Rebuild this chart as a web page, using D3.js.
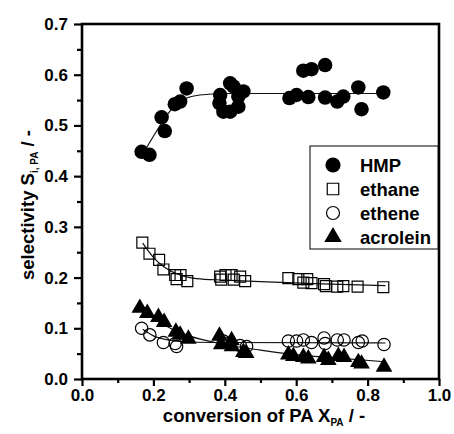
<!DOCTYPE html>
<html>
<head>
<meta charset="utf-8">
<script src="https://cdn.jsdelivr.net/npm/d3@7"></script>
<style>
body { margin: 0; background: #fff; }
text { font-family: Arial, "Liberation Sans", sans-serif; font-weight: bold; fill: #000; }
</style>
</head>
<body>
<div id="chart"></div>
<script>
// measured points (conversion X_PA, selectivity S)
var hmpX = [0.167, 0.189, 0.223, 0.232, 0.260, 0.275, 0.293, 0.387, 0.385, 0.396, 0.415, 0.424, 0.415, 0.438, 0.452, 0.438,
            0.620, 0.643, 0.681, 0.581, 0.601, 0.634, 0.681, 0.715, 0.732, 0.774, 0.783, 0.844];
var hmpY = [0.448, 0.442, 0.516, 0.489, 0.542, 0.547, 0.573, 0.560, 0.544, 0.527, 0.583, 0.577, 0.527, 0.537, 0.567, 0.557,
            0.608, 0.611, 0.619, 0.554, 0.560, 0.556, 0.555, 0.547, 0.557, 0.575, 0.532, 0.565];

var ethaneX = [0.169, 0.189, 0.216, 0.228, 0.261, 0.265, 0.276, 0.295, 0.387, 0.390, 0.402, 0.419, 0.425, 0.443, 0.457,
               0.578, 0.606, 0.631, 0.620, 0.643, 0.678, 0.683, 0.715, 0.732, 0.772, 0.844];
var ethaneY = [0.269, 0.247, 0.235, 0.216, 0.205, 0.197, 0.205, 0.193, 0.202, 0.196, 0.205, 0.205, 0.196, 0.202, 0.193,
               0.199, 0.197, 0.197, 0.190, 0.189, 0.187, 0.183, 0.182, 0.183, 0.182, 0.181];

var etheneX = [0.167, 0.190, 0.228, 0.261, 0.265, 0.396, 0.410, 0.443, 0.461,
               0.578, 0.601, 0.620, 0.643, 0.678, 0.681, 0.715, 0.734, 0.774, 0.785, 0.846];
var etheneY = [0.100, 0.087, 0.072, 0.070, 0.064, 0.075, 0.070, 0.066, 0.064,
               0.075, 0.075, 0.077, 0.072, 0.081, 0.070, 0.077, 0.077, 0.072, 0.075, 0.068];

var acroleinX = [0.162, 0.183, 0.214, 0.230, 0.263, 0.275, 0.298, 0.385, 0.390, 0.419, 0.420, 0.452, 0.460,
                 0.578, 0.592, 0.620, 0.634, 0.678, 0.690, 0.718, 0.734, 0.774, 0.783, 0.846];
var acroleinY = [0.140, 0.130, 0.122, 0.112, 0.093, 0.087, 0.079, 0.085, 0.068, 0.076, 0.064, 0.053, 0.051,
                 0.048, 0.045, 0.043, 0.040, 0.043, 0.037, 0.045, 0.043, 0.033, 0.030, 0.024];

// fitted trend lines
var hmpFitX = [0.18, 0.21, 0.25, 0.29, 0.33, 0.40, 0.50, 0.85];
var hmpFitY = [0.455, 0.490, 0.531, 0.553, 0.560, 0.563, 0.563, 0.563];
var ethaneFitX = [0.17, 0.20, 0.23, 0.27, 0.32, 0.40, 0.50, 0.65, 0.85];
var ethaneFitY = [0.268, 0.240, 0.221, 0.206, 0.198, 0.195, 0.192, 0.188, 0.184];
var etheneFitX = [0.17, 0.20, 0.25, 0.30, 0.40, 0.85];
var etheneFitY = [0.098, 0.085, 0.076, 0.073, 0.072, 0.071];
var acroleinFitX = [0.17, 0.20, 0.25, 0.30, 0.40, 0.50, 0.60, 0.70, 0.85];
var acroleinFitY = [0.140, 0.121, 0.099, 0.085, 0.068, 0.057, 0.048, 0.042, 0.034];

var legendNames = ["HMP", "ethane", "ethene", "acrolein"];
var xMajor = [0, 0.2, 0.4, 0.6, 0.8, 1.0], xMinor = [0.1, 0.3, 0.5, 0.7, 0.9];
var yMajor = [0, 0.1, 0.2, 0.3, 0.4, 0.5, 0.6, 0.7], yMinor = [0.05, 0.15, 0.25, 0.35, 0.45, 0.55, 0.65];

var W = 454, H = 434;
var margin = {top: 24, right: 15, bottom: 55, left: 82},
    width = W - margin.left - margin.right,
    height = H - margin.top - margin.bottom;

var svg = d3.select("#chart").append("svg")
    .attr("width", W)
    .attr("height", H);

var g = svg.append("g")
    .attr("transform", "translate(" + margin.left + "," + margin.top + ")");

var x = d3.scaleLinear().domain([0, 1.0]).range([0, width]);
var y = d3.scaleLinear().domain([0, 0.7]).range([height, 0]);

function zip(xs, ys) { return xs.map(function(v, i) { return [v, ys[i]]; }); }

var line = d3.line()
    .x(function(d) { return x(d[0]); })
    .y(function(d) { return y(d[1]); })
    .curve(d3.curveMonotoneX);

// fit lines
[[hmpFitX, hmpFitY], [ethaneFitX, ethaneFitY], [etheneFitX, etheneFitY], [acroleinFitX, acroleinFitY]]
  .forEach(function(s) {
    g.append("path")
        .attr("d", line(zip(s[0], s[1])))
        .attr("fill", "none")
        .attr("stroke", "#111")
        .attr("stroke-width", 1.2);
  });

var symbols = [
  {type: d3.symbolCircle, size: 165, fill: "#000", stroke: "none"},
  {type: d3.symbolSquare, size: 120, fill: "none", stroke: "#000"},
  {type: d3.symbolCircle, size: 120, fill: "none", stroke: "#000"},
  {type: d3.symbolTriangle, size: 120, fill: "#000", stroke: "none"}
];
var series = [zip(hmpX, hmpY), zip(ethaneX, ethaneY), zip(etheneX, etheneY), zip(acroleinX, acroleinY)];

series.forEach(function(data, i) {
  var s = symbols[i];
  g.append("g").selectAll("path")
      .data(data)
      .enter().append("path")
      .attr("transform", function(d) { return "translate(" + x(d[0]) + "," + y(d[1]) + ")"; })
      .attr("d", d3.symbol().type(s.type).size(s.size))
      .attr("fill", s.fill)
      .attr("stroke", s.stroke)
      .attr("stroke-width", 1.2);
});

// axes
var fmt = d3.format(".1f");
g.append("g").attr("transform", "translate(0," + height + ")")
    .call(d3.axisBottom(x).tickValues(xMajor).tickSize(7).tickPadding(3).tickFormat(fmt));
g.append("g").attr("transform", "translate(0," + height + ")")
    .call(d3.axisBottom(x).tickValues(xMinor).tickSize(4).tickFormat(""));
g.append("g")
    .call(d3.axisLeft(y).tickValues(yMajor).tickSize(8).tickPadding(6).tickFormat(fmt));
g.append("g")
    .call(d3.axisLeft(y).tickValues(yMinor).tickSize(5).tickFormat(""));

g.selectAll(".domain").remove();
g.selectAll(".tick line").attr("stroke", "#000").attr("stroke-width", 2.2);
g.selectAll(".tick text").style("font-size", "17px").style("font-family", "Arial, 'Liberation Sans', sans-serif").style("font-weight", "bold");

// frame
g.append("rect")
    .attr("x", 0).attr("y", 0)
    .attr("width", width).attr("height", height)
    .attr("fill", "none")
    .attr("stroke", "#000")
    .attr("stroke-width", 2.6);

// axis titles
var xt = svg.append("text")
    .attr("x", 264)
    .attr("y", 422)
    .attr("text-anchor", "middle")
    .style("font-size", "18.5px");
xt.append("tspan").text("conversion of PA X");
xt.append("tspan").attr("dy", 4).style("font-size", "10px").text("PA");
xt.append("tspan").attr("dy", -4).text(" / -");

var yt = svg.append("text")
    .attr("transform", "translate(34," + 205 + ") rotate(-90)")
    .attr("text-anchor", "middle")
    .style("font-size", "18.5px");
yt.append("tspan").text("selectivity S");
yt.append("tspan").attr("dy", 4).style("font-size", "10px").text("i, PA");
yt.append("tspan").attr("dy", -4).text(" / -");

// legend
var lg = svg.append("g").attr("transform", "translate(310,146)");
lg.append("rect")
    .attr("width", 128).attr("height", 103)
    .attr("fill", "#fff")
    .attr("stroke", "#000")
    .attr("stroke-width", 1);
legendNames.forEach(function(name, i) {
  var s = symbols[i];
  var yy = 19 + i * 24;
  lg.append("path")
      .attr("transform", "translate(23," + yy + ")")
      .attr("d", d3.symbol().type(s.type).size(s.size * 1.1))
      .attr("fill", s.fill)
      .attr("stroke", s.stroke)
      .attr("stroke-width", 1.2);
  lg.append("text")
      .attr("x", 50).attr("y", yy + 6.5)
      .style("font-size", "18.5px")
      .text(name);
});
</script>
</body>
</html>
